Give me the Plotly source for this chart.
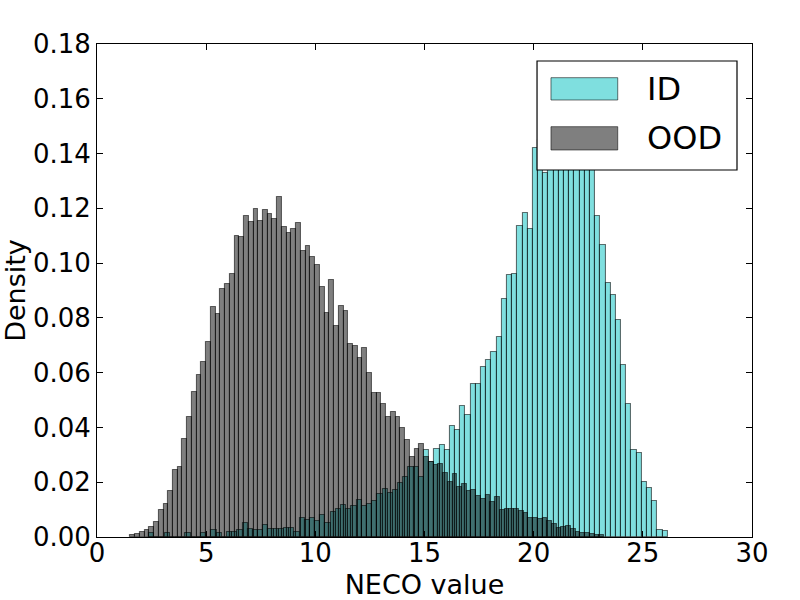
import plotly.graph_objects as go

# ---- data ----
id_bin_start = 2.39
id_bin_width = 0.2375
id_density = [0.0013, 0, 0, 0.0013, 0, 0, 0, 0.0013, 0, 0,
              0.0013, 0, 0.0024, 0.0013, 0, 0.0018, 0.002, 0.0026, 0.005, 0.0028,
              0.0026, 0.0024, 0.0045, 0.0028, 0.0028, 0.0031, 0.0032, 0.0032, 0.0018, 0.0068,
              0.0062, 0.0068, 0.0057, 0.008, 0.005, 0.009, 0.0101, 0.0116, 0.0101, 0.0113,
              0.0134, 0.0112, 0.0119, 0.013, 0.0157, 0.0174, 0.016, 0.0172, 0.0196, 0.0218,
              0.0256, 0.0256, 0.0219, 0.0318, 0.0275, 0.0321, 0.0335, 0.0318, 0.0405, 0.039,
              0.0478, 0.0445, 0.0559, 0.0559, 0.062, 0.0646, 0.0675, 0.0731, 0.087, 0.0955,
              0.096, 0.1135, 0.1182, 0.1124, 0.1419, 0.145, 0.133, 0.15, 0.155, 0.158,
              0.16, 0.155, 0.152, 0.148, 0.14, 0.136, 0.1172, 0.1066, 0.0929, 0.0884,
              0.0792, 0.0628, 0.0484, 0.0318, 0.0305, 0.0202, 0.0178, 0.0131, 0.0026, 0.0021]

ood_bin_start = 1.527
ood_bin_width = 0.217
ood_density = [0.0006, 0.001, 0.002, 0.0024, 0.0035, 0.0055, 0.010, 0.012, 0.0167, 0.0245,
               0.0256, 0.0358, 0.0437, 0.053, 0.059, 0.0638, 0.0712, 0.084, 0.0814, 0.0905,
               0.0924, 0.096, 0.110, 0.1095, 0.1172, 0.115, 0.1197, 0.1153, 0.1193, 0.1178,
               0.116, 0.124, 0.1132, 0.111, 0.1124, 0.1146, 0.1044, 0.1062, 0.1022, 0.0993,
               0.0913, 0.0818, 0.0938, 0.0772, 0.0843, 0.0825, 0.0705, 0.0699, 0.0654, 0.069,
               0.0599, 0.0526, 0.0526, 0.0486, 0.0438, 0.0456, 0.0438, 0.0398, 0.0354, 0.0292,
               0.0321, 0.034, 0.0293, 0.0274, 0.0263, 0.0266, 0.0234, 0.0201, 0.023, 0.0183,
               0.0194, 0.0168, 0.0172, 0.015, 0.0139, 0.0152, 0.0128, 0.0145, 0.0099, 0.0101,
               0.0103, 0.0101, 0.0094, 0.0086, 0.0069, 0.0069, 0.0067, 0.0069, 0.006, 0.0047,
               0.0033, 0.0038, 0.004, 0.003, 0.0018, 0.0016, 0.0013, 0.0011, 0.0009, 0.0009]

series_names = ["ID", "OOD"]
x_ticks = [0, 5, 10, 15, 20, 25, 30]
y_ticks = [0.00, 0.02, 0.04, 0.06, 0.08, 0.10, 0.12, 0.14, 0.16, 0.18]

ID_FILL = "rgba(0,191,191,0.5)"
OOD_FILL = "rgba(0,0,0,0.5)"
EDGE = "rgba(0,0,0,0.55)"
FONT = "DejaVu Sans"


def centers(start, width, n):
    return [start + width * (k + 0.5) for k in range(n)]


fig = go.Figure()
fig.add_trace(go.Bar(
    x=centers(id_bin_start, id_bin_width, len(id_density)), y=id_density,
    width=id_bin_width, name=series_names[0],
    marker=dict(color=ID_FILL, line=dict(color=EDGE, width=1.1)),
    showlegend=False))
fig.add_trace(go.Bar(
    x=centers(ood_bin_start, ood_bin_width, len(ood_density)), y=ood_density,
    width=ood_bin_width, name=series_names[1],
    marker=dict(color=OOD_FILL, line=dict(color=EDGE, width=1.1)),
    showlegend=False))

# manual legend (large patches as in the reference)
fig.add_shape(type="rect", xref="paper", yref="paper", x0=0.6718, x1=0.9771, y0=0.7444, y1=0.9655,
              line=dict(color="black", width=1.2), fillcolor="white", layer="above")
for (name, color, y0, y1) in [(series_names[0], ID_FILL, 0.8864, 0.9317),
                              (series_names[1], OOD_FILL, 0.7850, 0.8323)]:
    fig.add_shape(type="rect", xref="paper", yref="paper", x0=0.6931, x1=0.7950, y0=y0, y1=y1,
                  line=dict(color=EDGE, width=1), fillcolor=color, layer="above")
    fig.add_annotation(xref="paper", yref="paper", x=0.8366, y=(y0 + y1) / 2, text=name,
                       showarrow=False, xanchor="left", yanchor="middle",
                       font=dict(family=FONT, size=32, color="black"))

fig.update_layout(
    width=800, height=600,
    margin=dict(l=97, r=48, t=44, b=63),
    paper_bgcolor="white", plot_bgcolor="white",
    barmode="overlay", bargap=0,
    font=dict(family=FONT, size=26, color="black"),
    xaxis=dict(range=[0, 30], tickvals=x_ticks, ticktext=[str(v) for v in x_ticks],
               showgrid=False, zeroline=False, showline=True, linecolor="black", linewidth=1,
               mirror="ticks", ticks="inside", ticklen=6, tickcolor="black",
               tickfont=dict(family=FONT, size=26), automargin=False, ticklabelstandoff=-7,
               title=dict(text="NECO value", font=dict(family=FONT, size=27), standoff=12)),
    yaxis=dict(range=[0, 0.18], tickvals=y_ticks, ticktext=[f"{v:.2f}" for v in y_ticks],
               showgrid=False, zeroline=False, showline=True, linecolor="black", linewidth=1,
               mirror="ticks", ticks="inside", ticklen=6, tickcolor="black",
               tickfont=dict(family=FONT, size=26), automargin=False,
               title=dict(text="Density", font=dict(family=FONT, size=27), standoff=2)),
)

fig.write_html("out.html", config={"displayModeBar": False},
               post_script="document.body.style.margin='0';")
